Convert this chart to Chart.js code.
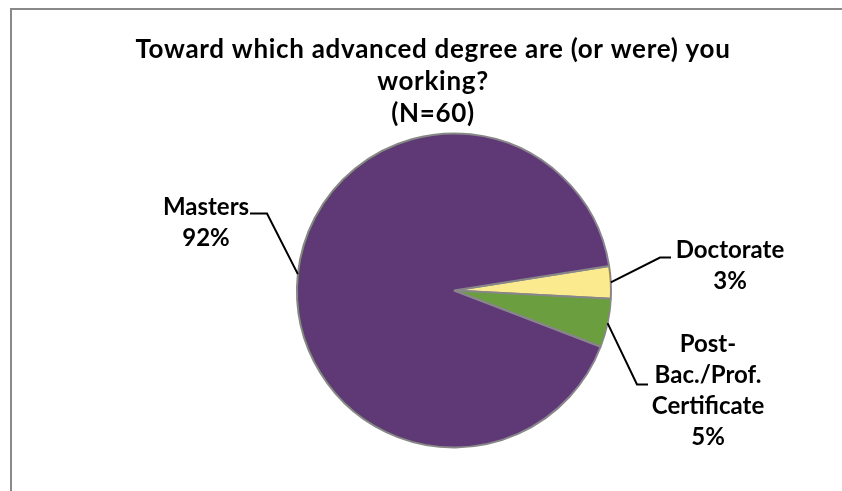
<!DOCTYPE html>
<html>
<head>
<meta charset="utf-8">
<script src="https://cdn.jsdelivr.net/npm/chart.js@4"></script>
<style>
  html, body { margin: 0; padding: 0; background: #fff; overflow: hidden; }
  #wrap { width: 842px; height: 491px; }
</style>
</head>
<body>
<div id="wrap"><canvas id="myChart" width="842" height="491"></canvas></div>
<script>
// data (N=60)
const categories = ["Doctorate", "Post-Bac./Prof. Certificate", "Masters"];
const counts = [2, 3, 55];
const labelLines = [["Doctorate"], ["Post-", "Bac./Prof.", "Certificate"], ["Masters"]];
const titleLines = ["Toward which advanced degree are (or were) you", "working?", "(N=60)"];
const sliceColors = ["#FCEA8F", "#6B9E3F", "#5F3876"];

const total = counts.reduce((a, b) => a + b, 0);

// where each label sits, relative to the pie centre (text, elbow, line end)
const labelPos = [
  { tx: 276, ty: -40, ex: 206, ey: -33, lx: 217, ly: -33 },
  { tx: 254, ty: 54, ex: 183, ey: 94, lx: 194, ly: 94 },
  { tx: -248, ty: -83, ex: -187, ey: -77, lx: -204, ly: -77 },
];

const LABEL_FONT = "bold 24px Lato, 'Liberation Sans', sans-serif";
const TITLE_FONT = "bold 26px Lato, 'Liberation Sans', sans-serif";
const LINE_H = 31;

const frameAndTitle = {
  id: "frameAndTitle",
  beforeDraw(chart) {
    const ctx = chart.ctx;
    ctx.save();
    ctx.strokeStyle = "#898989";
    ctx.lineWidth = 2;
    ctx.strokeRect(11, 9, 900, 600);
    ctx.restore();
  },
  afterDraw(chart) {
    const ctx = chart.ctx;
    ctx.save();
    ctx.fillStyle = "#000";
    ctx.textAlign = "center";
    ctx.textBaseline = "middle";
    ctx.font = TITLE_FONT;
    ctx.letterSpacing = "0.7px";
    titleLines.forEach((t, i) => ctx.fillText(t, 433, 50 + i * 32));
    ctx.letterSpacing = "0px";

    ctx.font = LABEL_FONT;
    const meta = chart.getDatasetMeta(0);
    meta.data.forEach((arc, i) => {
      const p = arc.getProps(["x", "y", "startAngle", "endAngle", "outerRadius"], true);
      const mid = (p.startAngle + p.endAngle) / 2;
      const sx = p.x + Math.cos(mid) * p.outerRadius;
      const sy = p.y + Math.sin(mid) * p.outerRadius;
      const L = labelPos[i];
      ctx.strokeStyle = "#000";
      ctx.lineWidth = 2;
      ctx.beginPath();
      ctx.moveTo(sx, sy);
      ctx.lineTo(p.x + L.ex, p.y + L.ey);
      ctx.lineTo(p.x + L.lx, p.y + L.ly);
      ctx.stroke();

      const pct = Math.round(counts[i] / total * 100) + "%";
      const lines = labelLines[i].concat([pct]);
      lines.forEach((t, j) => ctx.fillText(t, p.x + L.tx, p.y + L.ty + j * LINE_H));
    });
    ctx.restore();
  },
};

const ctx = document.getElementById("myChart").getContext("2d");
new Chart(ctx, {
  type: "pie",
  data: {
    labels: categories,
    datasets: [
      {
        data: counts,
        backgroundColor: sliceColors,
        borderColor: "#878787",
        borderWidth: 2,
      },
    ],
  },
  options: {
    responsive: false,
    animation: false,
    rotation: 81,
    radius: 157,
    layout: {
      padding: { left: 254, right: 188, top: 120.5, bottom: 30.5 },
    },
    plugins: {
      legend: { display: false },
      tooltip: { enabled: false },
      title: { display: false },
    },
  },
  plugins: [frameAndTitle],
});
</script>
</body>
</html>
